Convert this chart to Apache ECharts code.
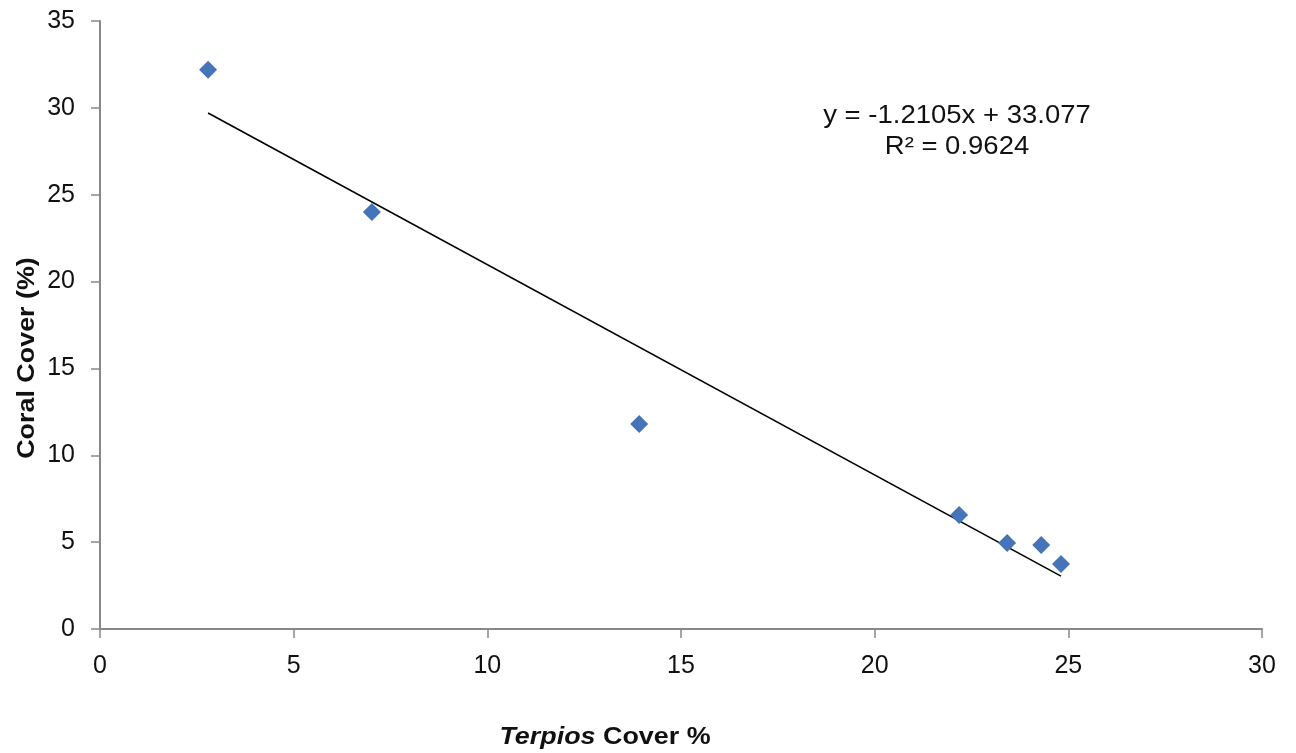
<!DOCTYPE html>
<html><head><meta charset="utf-8">
<script src="https://cdn.jsdelivr.net/npm/echarts@6/dist/echarts.min.js"></script>
<style>html,body{margin:0;padding:0;background:#fff}#c{width:1296px;height:753px}</style>
</head><body><div id="c"></div>
<script>
const terpiosCover = [2.79, 7.02, 13.92, 22.18, 23.42, 24.30, 24.81];
const coralCover = [32.2, 24.0, 11.8, 6.56, 4.95, 4.84, 3.74];
const slope = -1.2105;
const intercept = 33.077;
const equationLines = ['y = -1.2105x + 33.077', 'R² = 0.9624'];
const xTicks = [0, 5, 10, 15, 20, 25, 30];
const yTicks = [0, 5, 10, 15, 20, 25, 30, 35];

const pts = terpiosCover.map((x, i) => [x, coralCover[i]]);
const xmin = Math.min(...terpiosCover), xmax = Math.max(...terpiosCover);
const trend = [[xmin, slope * xmin + intercept], [xmax, slope * xmax + intercept]];

const chart = echarts.init(document.getElementById('c'));
const font = 'Liberation Sans, Arial, sans-serif';
chart.setOption({
  animation: false,
  grid: {left: 100, right: 34, top: 21, bottom: 124, containLabel: false},
  xAxis: {
    type: 'value', min: xTicks[0], max: xTicks[xTicks.length - 1], interval: 5,
    axisLine: {show: true, lineStyle: {color: '#888', width: 2}},
    axisTick: {show: true, length: 9, lineStyle: {color: '#888', width: 1.5}},
    axisLabel: {color: '#111', fontSize: 25, fontFamily: font, margin: 25},
    splitLine: {show: false}
  },
  yAxis: {
    type: 'value', min: yTicks[0], max: yTicks[yTicks.length - 1], interval: 5,
    axisLine: {show: true, lineStyle: {color: '#888', width: 2}},
    axisTick: {show: true, length: 9, lineStyle: {color: '#888', width: 1.5}},
    axisLabel: {color: '#111', fontSize: 25, fontFamily: font, margin: 25},
    splitLine: {show: false}
  },
  series: [
    {type: 'line', data: trend, symbol: 'none', lineStyle: {color: '#000', width: 1.6}, z: 2},
    {type: 'scatter', data: pts, symbol: 'diamond', symbolSize: 18, itemStyle: {color: '#4574b9', opacity: 1}, z: 3}
  ],
  graphic: [
    {type: 'text', x: 957, y: 116, scaleX: 1.1, style: {text: equationLines[0], align: 'center', verticalAlign: 'middle', fontSize: 25, fontFamily: font, fill: '#111'}},
    {type: 'text', x: 957, y: 147, scaleX: 1.1, style: {text: equationLines[1], align: 'center', verticalAlign: 'middle', fontSize: 25, fontFamily: font, fill: '#111'}},
    {type: 'text', x: 605, y: 737, scaleX: 1.12, style: {text: '{i|Terpios} Cover %', align: 'center', verticalAlign: 'middle', fontFamily: font, fontSize: 24, fontWeight: 'bold', fill: '#111',
      rich: {i: {fontStyle: 'italic', fontWeight: 'bold', fontSize: 24, fontFamily: font, fill: '#111'}}}},
    {type: 'text', x: 27, y: 358, rotation: Math.PI / 2, scaleX: 1.12, style: {text: 'Coral Cover (%)', align: 'center', verticalAlign: 'middle', fontFamily: font, fontSize: 24, fontWeight: 'bold', fill: '#111'}}
  ]
});
</script></body></html>
